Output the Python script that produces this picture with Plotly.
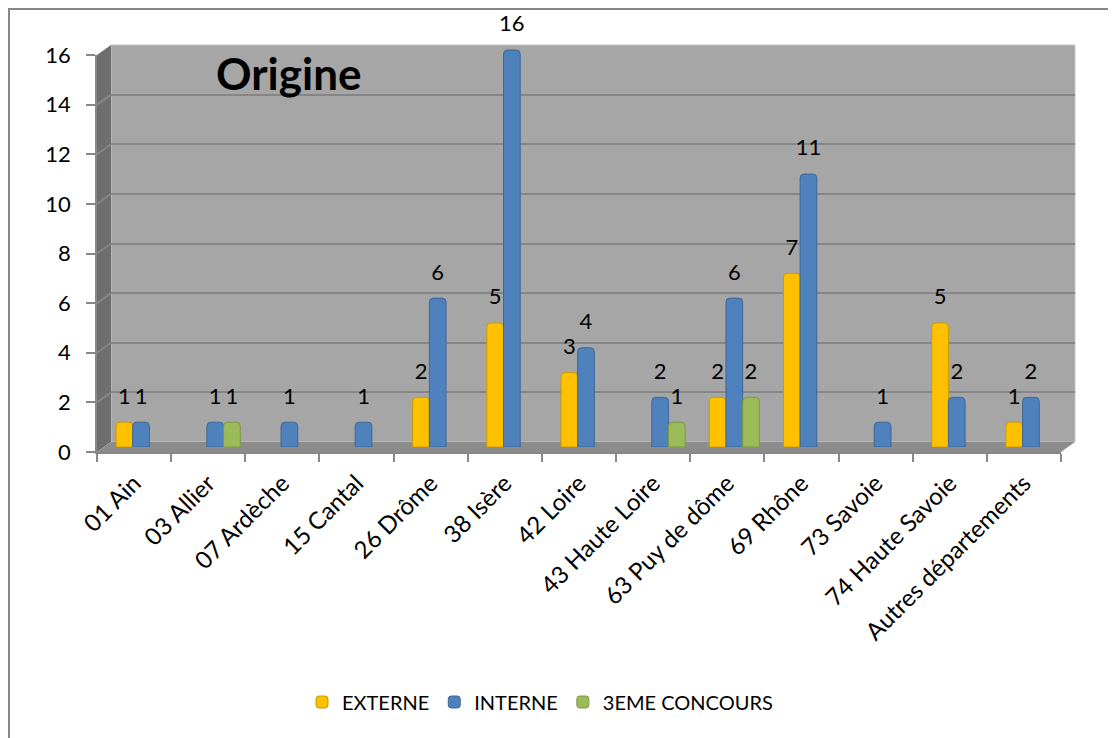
import plotly.graph_objects as go

# ---------------- data ----------------
categories = ["01 Ain", "03 Allier", "07 Ardèche", "15 Cantal", "26 Drôme", "38 Isère",
              "42 Loire", "43 Haute Loire", "63 Puy de dôme", "69 Rhône", "73 Savoie",
              "74 Haute Savoie", "Autres départements"]
externe = [1, None, None, None, 2, 5, 3, None, 2, 7, None, 5, 1]
interne = [1, 1, 1, 1, 6, 16, 4, 2, 6, 11, 1, 2, 2]
troisieme = [None, 1, None, None, None, None, None, 1, 2, None, None, None, None]
series_names = ["EXTERNE", "INTERNE", "3EME CONCOURS"]
y_ticks = [0, 2, 4, 6, 8, 10, 12, 14, 16]

# ---------------- geometry helpers ----------------
W, H = 1116, 738
PAGE_OFF = 8  # the html body margin shifts the figure by 8px


def fx(px):
    return (px - PAGE_OFF) / W


def fy(py):
    return 1 - (py - PAGE_OFF) / H


FONT = "Lato"
DX, DY = 14, 10           # 3D depth offset (px)
X0, X1 = 97, 1061         # front x extents
YB, YT = 452, 55          # front y (0 and 16)
unit_px = (YB - YT) / 16.0
Y3_MAX = 17.5             # bar axis extends above 16 so labels stay inside
bar_base = YB - DY / 2

colors = ["#ffc000", "#4f81bd", "#9bbb59"]
line_colors = ["#c99a00", "#3b6799", "#7b9844"]

idx = list(range(len(categories)))
bw = 0.225
offsets = [-1.5 * bw, -0.5 * bw, 0.5 * bw]

fig = go.Figure()

# invisible trace on front axes (for category tick labels)
fig.add_trace(go.Scatter(x=categories, y=[0] * len(categories), mode="none",
                         showlegend=False, hoverinfo="skip", xaxis="x", yaxis="y"))
# invisible trace on back axes (wall gridlines)
fig.add_trace(go.Scatter(x=[0], y=[0], mode="none", showlegend=False,
                         hoverinfo="skip", xaxis="x2", yaxis="y2"))

for name, vals, c, lc, off in zip(series_names, [externe, interne, troisieme],
                                   colors, line_colors, offsets):
    xs = [i for i, v in zip(idx, vals) if v is not None]
    ys = [v for v in vals if v is not None]
    fig.add_trace(go.Bar(
        x=xs, y=ys, name=name, width=bw, offset=off,
        marker=dict(color=c, line=dict(color=lc, width=1), cornerradius=4),
        xaxis="x3", yaxis="y3", hoverinfo="skip",
    ))
    fig.add_trace(go.Scatter(
        x=[x + off + bw / 2 for x in xs], y=[v + 0.97 for v in ys],
        text=[str(v) for v in ys], mode="text", textposition="middle center",
        textfont=dict(family=FONT, size=22, color="black"),
        showlegend=False, hoverinfo="skip", cliponaxis=False,
        xaxis="x3", yaxis="y3",
    ))

shapes = []
# back wall
shapes.append(dict(type="rect", xref="x2 domain", yref="y2 domain", x0=0, x1=1, y0=0, y1=1,
                   fillcolor="#a6a6a6", line=dict(color="#c4c4c4", width=1), layer="below"))
# side wall
shapes.append(dict(type="path", xref="paper", yref="paper",
                   path=f"M {fx(X0)} {fy(YB)} L {fx(X0)} {fy(YT)} L {fx(X0+DX)} {fy(YT-DY)} L {fx(X0+DX)} {fy(YB-DY)} Z",
                   fillcolor="#6e6e6e", line=dict(width=0), layer="below"))
# floor
shapes.append(dict(type="path", xref="paper", yref="paper",
                   path=f"M {fx(X0)} {fy(YB)} L {fx(X1)} {fy(YB)} L {fx(X1+DX)} {fy(YB-DY)} L {fx(X0+DX)} {fy(YB-DY)} Z",
                   fillcolor="#8c8c8c", line=dict(width=0), layer="below"))
# side wall gridlines
for v in y_ticks[1:]:
    shapes.append(dict(type="line", xref="paper", yref="y", x0=fx(X0), x1=fx(X0 + DX),
                       y0=v, y1=v + DY / unit_px, line=dict(color="#858585", width=2),
                       layer="below"))
# outer chart border (continues beyond the image at right/bottom)
shapes.append(dict(type="rect", xref="paper", yref="paper", x0=fx(9), x1=fx(1140),
                   y0=fy(760), y1=fy(9), line=dict(color="#878787", width=2),
                   fillcolor="rgba(0,0,0,0)", layer="above"))

fig.update_layout(
    width=W, height=H,
    margin=dict(l=0, r=0, t=0, b=0, autoexpand=False),
    paper_bgcolor="white", plot_bgcolor="rgba(0,0,0,0)",
    barmode="overlay",
    font=dict(family=FONT, size=21, color="black"),
    shapes=shapes,
    showlegend=True,
    legend=dict(orientation="h", x=fx(540), xanchor="center", y=fy(702), yanchor="middle",
                font=dict(family=FONT, size=20, color="black"), bgcolor="rgba(0,0,0,0)"),
    annotations=[dict(text="<b>Origine</b>", x=fx(289), y=fy(73), xref="paper", yref="paper",
                      xanchor="center", yanchor="middle", showarrow=False,
                      font=dict(family=FONT, size=44, color="black"))],
    xaxis=dict(domain=[fx(X0), fx(X1)], anchor="y", type="category",
               categoryorder="array", categoryarray=categories,
               range=[-0.5, len(categories) - 0.5], tickson="boundaries",
               ticks="outside", ticklen=8, tickcolor="#888888", tickwidth=1.5,
               showline=True, linecolor="#888888", linewidth=1.5,
               showgrid=False, tickangle=-45, zeroline=False, automargin=False,
               ticklabelstandoff=6,
               tickfont=dict(family=FONT, size=24, color="black")),
    yaxis=dict(domain=[fy(YB), fy(YT)], anchor="x", range=[0, 16],
               tickvals=y_ticks, ticks="outside", ticklen=9, tickcolor="#888888",
               tickwidth=1.5, showline=True, linecolor="#888888", linewidth=1.5,
               showgrid=False, zeroline=False, ticklabelstandoff=11, automargin=False,
               tickfont=dict(family=FONT, size=22, color="black")),
    xaxis2=dict(domain=[fx(X0 + DX), fx(X1 + DX)], anchor="y2", range=[0, 1],
                showticklabels=False, showgrid=False, zeroline=False, ticks=""),
    yaxis2=dict(domain=[fy(YB - DY), fy(YT - DY)], anchor="x2", range=[0, 16],
                tickvals=y_ticks, showticklabels=False, showgrid=True,
                gridcolor="#858585", gridwidth=2, zeroline=False, ticks=""),
    xaxis3=dict(domain=[fx(X0 + DX / 2), fx(X1 + DX / 2)], anchor="y3",
                range=[-0.5, len(categories) - 0.5], visible=False),
    yaxis3=dict(domain=[fy(bar_base), fy(bar_base - Y3_MAX * unit_px)], anchor="x3",
                range=[0, Y3_MAX], visible=False),
)

fig.write_html("out.html")
